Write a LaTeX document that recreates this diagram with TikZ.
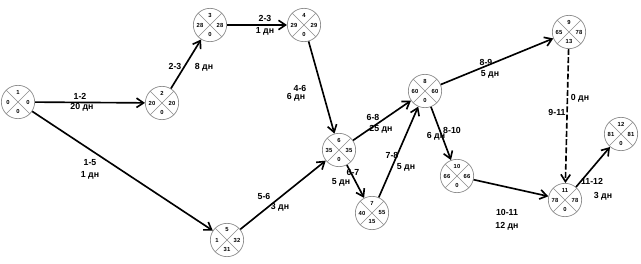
\documentclass[tikz,border=0pt]{standalone}
\usepackage{fontspec}
\setmainfont{Liberation Sans}
\usetikzlibrary{calc,arrows.meta}

\tikzstyle{every node}=[inner sep=1pt, font={\fontsize{7.5}{8}\selectfont\bfseries}]
\tikzstyle{event}=[circle, draw=black!45, line width=0.6pt, minimum size=1cm, inner sep=0pt, fill=white]
\tikzstyle{quarter}=[draw=black!45, line width=0.5pt]
\tikzstyle{num}=[font={\fontsize{5}{5}\selectfont\bfseries}, inner sep=0pt]
\tikzstyle{job}=[line width=1.4pt, -{Straight Barb[length=6pt,width=8pt]}]
\tikzstyle{dummy}=[job, dash pattern=on 5pt off 2pt]

\newcommand{\event}[6]{%
  \node[event] (#1) at (#2) {};
  \draw[quarter] (#1.north west) -- (#1.south east) (#1.north east) -- (#1.south west);
  \node[num] (#1t) at ($(#1)+(0,-10)$) {#3};
  \node[num] (#1l) at ($(#1)+(-10,0)$) {#4};
  \node[num] (#1r) at ($(#1)+(10,0)$) {#5};
  \node[num] (#1b) at ($(#1)+(0,9)$) {#6};
}

\begin{document}
\begin{tikzpicture}[x=0.03cm, y=-0.03cm]
    \useasboundingbox (0,0) rectangle (641,264);

    % events
    \event{e1}{18,102}{1}{0}{0}{0}
    \event{e2}{162,103}{2}{20}{20}{0}
    \event{e3}{210,25}{3}{28}{28}{0}
    \event{e4}{304,25}{4}{29}{29}{0}
    \event{e5}{227,240}{5}{1}{32}{31}
    \event{e6}{339,150}{6}{35}{35}{0}
    \event{e7}{372,213}{7}{40}{55}{15}
    \event{e8}{425,91}{8}{60}{60}{0}
    \event{e9}{569,32}{9}{65}{78}{13}
    \event{e10}{457,176}{10}{66}{66}{0}
    \event{e11}{565,200}{11}{78}{78}{0}
    \event{e12}{621,134}{12}{81}{81}{0}

    % jobs
    \draw[job] (e1) -- (e2);
    \draw[job] (e2) -- (e3);
    \draw[job] (e3) -- (e4);
    \draw[job] (e4) -- (e6);
    \draw[job] (e1) -- (e5);
    \draw[job] (e5) -- (e6);
    \draw[job] (e6) -- (e7);
    \draw[job] (e6) -- (e8);
    \draw[job] (e7) -- (e8);
    \draw[job] (e8) -- (e9);
    \draw[job] (e8) -- (e10);
    \draw[dummy] (e9) -- (e11);
    \draw[job] (e10) -- (e11);
    \draw[job] (e11) -- (e12);

    % labels
    \node (n12) at (80,96) {1-2};
    \node (d12) at (82,107) {20 дн};
    \node (n23) at (175,66) {2-3};
    \node (d23) at (204,67) {8 дн};
    \node (n34) at (265,18) {2-3};
    \node (d34) at (265,31) {1 дн};
    \node (n46) at (300,88) {4-6};
    \node (d46) at (296,97) {6 дн};
    \node (n15) at (90,163) {1-5};
    \node (d15) at (90,175) {1 дн};
    \node (n56) at (264,196) {5-6};
    \node (d56) at (280,207) {3 дн};
    \node (n67) at (353,172) {6-7};
    \node (d67) at (341,182) {5 дн};
    \node (n68) at (373,117) {6-8};
    \node (d68) at (381,129) {25 дн};
    \node (n78) at (392,155) {7-8};
    \node (d78) at (406,167) {5 дн};
    \node (n89) at (486,62) {8-9};
    \node (d89) at (490,74) {5 дн};
    \node (n810) at (452,130) {8-10};
    \node (d810) at (436,136) {6 дн};
    \node (n911) at (557,112) {9-11};
    \node (d911) at (580,98) {0 дн};
    \node (n1011) at (507,212) {10-11};
    \node (d1011) at (507,226) {12 дн};
    \node (n1112) at (592,181) {11-12};
    \node (d1112) at (603,196) {3 дн};
\end{tikzpicture}
\end{document}
